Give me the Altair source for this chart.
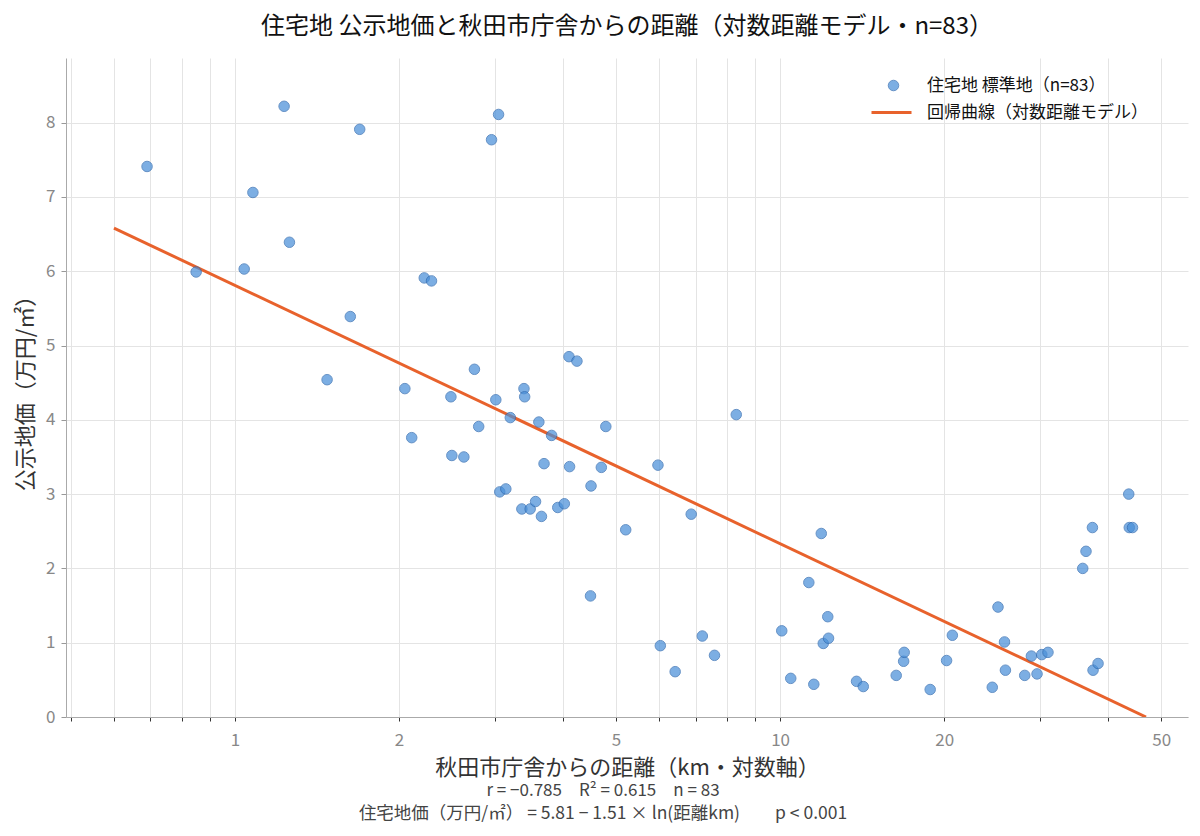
import pandas as pd
import altair as alt

# 距離(km) と 公示地価(万円/㎡) を図から読み取り
distance_km = [0.69, 0.849, 1.040, 1.079, 1.231, 1.259, 1.476, 1.628, 1.694,
               2.05, 2.11, 2.225, 2.294, 2.49, 2.50, 2.63, 2.75, 2.80,
               2.956, 3.01, 3.045, 3.06, 3.14, 3.20, 3.36, 3.39, 3.40, 3.48,
               3.56, 3.61, 3.65, 3.69, 3.81, 3.91, 4.02, 4.10, 4.11, 4.24,
               4.49, 4.50, 4.70, 4.79, 5.21, 5.97, 6.03, 6.42, 6.87, 7.20,
               7.58, 8.31, 10.07, 10.46, 11.29, 11.53, 11.90, 12.0, 12.23, 12.27,
               13.81, 14.21, 16.33, 16.85, 16.89, 18.85, 20.2, 20.7, 24.5, 25.1,
               25.8, 25.9, 28.1, 28.9, 29.6, 30.2, 31.0, 35.9, 36.4, 37.4,
               37.5, 38.3, 43.6, 43.7, 44.3]
price = [7.41, 5.99, 6.03, 7.06, 8.22, 6.39, 4.54, 5.39, 7.91,
         4.42, 3.76, 5.91, 5.87, 4.31, 3.52, 3.50, 4.68, 3.91,
         7.77, 4.27, 8.11, 3.03, 3.07, 4.03, 2.80, 4.42, 4.31, 2.80,
         2.90, 3.97, 2.70, 3.41, 3.79, 2.82, 2.87, 4.85, 3.37, 4.79,
         1.63, 3.11, 3.36, 3.91, 2.52, 3.39, 0.96, 0.61, 2.73, 1.09,
         0.83, 4.07, 1.16, 0.52, 1.81, 0.44, 2.47, 0.99, 1.35, 1.06,
         0.48, 0.41, 0.56, 0.75, 0.87, 0.37, 0.76, 1.10, 0.40, 1.48,
         1.01, 0.63, 0.56, 0.82, 0.58, 0.84, 0.87, 2.00, 2.23, 2.55,
         0.63, 0.72, 3.00, 2.55, 2.55]

# 回帰曲線: 価格 = a + b * ln(距離)
reg_intercept = 5.81
reg_slope = -1.51
line_extent = [0.6, 46.9]

x_ticks = [0.5, 0.6, 0.7, 0.8, 0.9, 1, 2, 3, 4, 5, 6, 7, 8, 9, 10, 20, 30, 40, 50]
x_labels = [1, 2, 5, 10, 20, 50]
y_ticks = [0, 1, 2, 3, 4, 5, 6, 7, 8]

point_name = "住宅地 標準地（n=83）"
line_name = "回帰曲線（対数距離モデル）"
stats_lines = ["r = −0.785　R² = 0.615　n = 83",
               "住宅地価（万円/㎡） = 5.81 − 1.51 × ln(距離km)　　p < 0.001"]

FONT = "Noto Sans CJK JP"

pts = pd.DataFrame({"distance": distance_km, "price": price, "series": point_name})
reg = pd.DataFrame({"distance": line_extent, "series": line_name})

x_enc = alt.X(
    "distance:Q",
    scale=alt.Scale(type="log", domain=[0.49, 56]),
    axis=alt.Axis(
        values=x_ticks,
        format="~g",
        labelExpr="indexof(" + str(x_labels) + ", datum.value) >= 0 ? datum.label : ''",
        title="秋田市庁舎からの距離（km・対数軸）",
        titlePadding=9,
        labelPadding=11,
        tickColor="#333",
        tickSize=4,
    ),
)
y_scale = alt.Scale(domain=[0, 8.87], nice=False, zero=True)

line = alt.Chart(reg).transform_calculate(
    fit=f"{reg_intercept} + ({reg_slope}) * log(datum.distance)"
).mark_line(strokeWidth=3, clip=True).encode(
    x=x_enc,
    y=alt.Y("fit:Q", scale=y_scale),
    stroke=alt.Stroke(
        "series:N",
        scale=alt.Scale(domain=[line_name], range=["#e8622c"]),
        legend=alt.Legend(
            orient="none", legendX=804, legendY=33, title=None,
            symbolType="stroke", symbolSize=1600, symbolStrokeWidth=3,
            labelOffset=14, labelFontSize=17, labelColor="#111", labelFont=FONT,
            labelLimit=400, padding=0,
        ),
    ),
)

points = alt.Chart(pts).mark_circle(
    size=110, opacity=0.72, stroke="#2c68b0", strokeWidth=1
).encode(
    x=x_enc,
    y=alt.Y("price:Q", scale=y_scale,
            axis=alt.Axis(values=y_ticks, format="d", title="公示地価（万円/㎡）",
                          titlePadding=8, labelPadding=6)),
    fill=alt.Fill(
        "series:N",
        scale=alt.Scale(domain=[point_name], range=["#4a90d9"]),
        legend=alt.Legend(
            orient="none", legendX=819, legendY=19, title=None,
            symbolType="circle", symbolSize=110, symbolOpacity=0.72,
            symbolStrokeColor="#2c68b0", symbolStrokeWidth=1,
            labelOffset=25, labelFontSize=17, labelColor="#111", labelFont=FONT,
            labelLimit=400, padding=0,
        ),
    ),
)

stats1 = alt.Chart(pd.DataFrame({"t": [stats_lines[0]]})).mark_text(
    fontSize=17, color="#444", font=FONT, align="center", baseline="middle"
).encode(text="t:N", x=alt.value(537), y=alt.value(733))

stats2 = alt.Chart(pd.DataFrame({"t": [stats_lines[1]]})).mark_text(
    fontSize=17.5, color="#444", font=FONT, align="center", baseline="middle"
).encode(text="t:N", x=alt.value(537), y=alt.value(756))

chart = alt.layer(line, points, stats1, stats2).resolve_scale(
    fill="independent", stroke="independent"
).properties(
    width=1122,
    height=659,
    autosize=alt.AutoSizeParams(type="none"),
    padding={"left": 58, "top": 50, "right": 4, "bottom": 111},
    title=alt.Title(
        "住宅地 公示地価と秋田市庁舎からの距離（対数距離モデル・n=83）",
        fontSize=24, fontWeight="normal", color="#111", font=FONT,
        anchor="middle", offset=19,
    ),
).configure_view(
    stroke=None
).configure_axis(
    labelFont=FONT, titleFont=FONT,
    labelFontSize=17, labelColor="#888",
    titleFontSize=22, titleFontWeight="normal", titleColor="#333",
    domainColor="#aaa", tickColor="#999", tickSize=5,
    gridColor="#e4e4e4", gridWidth=1,
)

chart.save("out.html", embed_options={"renderer": "svg", "actions": False})
